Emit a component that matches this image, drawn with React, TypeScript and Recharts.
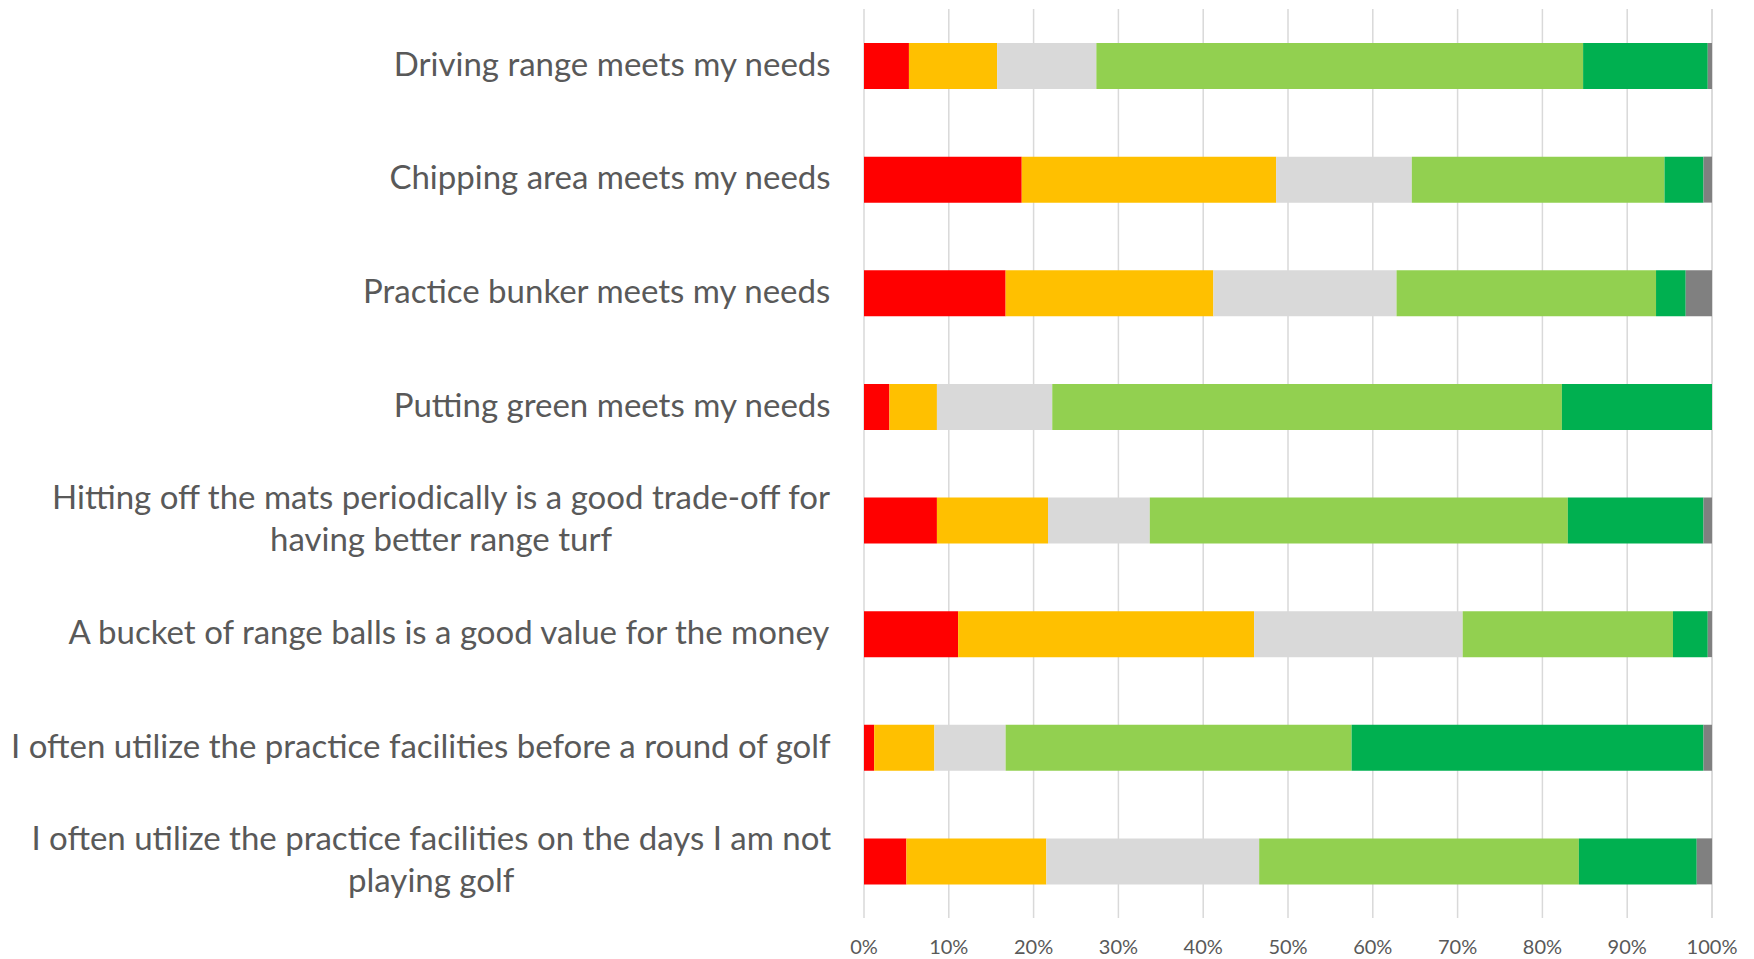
import { Bar, BarChart, CartesianGrid, XAxis, YAxis } from "recharts"

const statements = [
  ["Driving range meets my needs"],
  ["Chipping area meets my needs"],
  ["Practice bunker meets my needs"],
  ["Putting green meets my needs"],
  ["Hitting off the mats periodically is a good trade-off for", "having better range turf"],
  ["A bucket of range balls is a good value for the money"],
  ["I often utilize the practice facilities before a round of golf"],
  ["I often utilize the practice facilities on the days I am not", "playing golf"],
]

// percent of responses, one value per statement
const stronglyDisagree = [5.3, 18.6, 16.7, 3.0, 8.6, 11.1, 1.2, 5.0]
const disagree = [10.4, 30.0, 24.5, 5.6, 13.1, 34.9, 7.1, 16.5]
const neutral = [11.7, 16.0, 21.6, 13.6, 12.0, 24.6, 8.4, 25.1]
const agree = [57.4, 29.8, 30.6, 60.1, 49.3, 24.8, 40.8, 37.7]
const stronglyAgree = [14.7, 4.6, 3.5, 17.7, 16.0, 4.1, 41.5, 13.9]
const noAnswer = [0.5, 1.0, 3.1, 0, 1.0, 0.5, 1.0, 1.8]

const ticks = [0, 10, 20, 30, 40, 50, 60, 70, 80, 90, 100]

const series = [
  { key: "stronglyDisagree", color: "#FF0000" },
  { key: "disagree", color: "#FFC000" },
  { key: "neutral", color: "#D9D9D9" },
  { key: "agree", color: "#92D050" },
  { key: "stronglyAgree", color: "#00B050" },
  { key: "noAnswer", color: "#808080" },
]

const data = statements.map((lines, i) => ({
  name: lines.join(" "),
  lines,
  stronglyDisagree: stronglyDisagree[i],
  disagree: disagree[i],
  neutral: neutral[i],
  agree: agree[i],
  stronglyAgree: stronglyAgree[i],
  noAnswer: noAnswer[i],
}))

const FONT = "Lato, 'Open Sans', sans-serif"
const LABEL_SIZE = 33

let ctx: CanvasRenderingContext2D | null = null
function textWidth(s: string) {
  if (!ctx) ctx = document.createElement("canvas").getContext("2d")
  if (!ctx) return s.length * LABEL_SIZE * 0.48
  ctx.font = `${LABEL_SIZE}px ${FONT}`
  return ctx.measureText(s).width
}

function StatementTick(props: any) {
  const { x, y, index } = props
  const lines: string[] = data[index]?.lines ?? [props.payload.value]
  const right = x - 25
  const widest = Math.max(...lines.map(textWidth))
  const cx = right - widest / 2
  const lh = 42
  const y0 = y - 3 - ((lines.length - 1) * lh) / 2
  return (
    <g>
      {lines.map((l, i) => (
        <text
          key={i}
          x={cx}
          y={y0 + i * lh}
          textAnchor="middle"
          dominantBaseline="central"
          fill="#595959"
          fontFamily={FONT}
          fontSize={LABEL_SIZE}
        >
          {l}
        </text>
      ))}
    </g>
  )
}

export default function App() {
  return (
    <div style={{ position: "absolute", left: 0, top: 0, background: "#fff" }}>
      <BarChart
        width={1754}
        height={959}
        data={data}
        layout="vertical"
        margin={{ top: 9, right: 42, bottom: 0, left: 0 }}
      >
        <CartesianGrid horizontal={false} stroke="#D9D9D9" strokeWidth={1.5} />
        <XAxis
          type="number"
          domain={[0, 100]}
          ticks={ticks}
          tickFormatter={(v) => `${v}%`}
          axisLine={false}
          tickLine={false}
          height={41}
          tick={{ fill: "#595959", fontSize: 20, fontFamily: FONT }}
          tickMargin={16}
        />
        <YAxis
          type="category"
          dataKey="name"
          width={864}
          axisLine={false}
          tickLine={false}
          interval={0}
          tick={<StatementTick />}
        />
        {series.map((s) => (
          <Bar
            key={s.key}
            dataKey={s.key}
            stackId="a"
            fill={s.color}
            barSize={46}
            isAnimationActive={false}
          />
        ))}
      </BarChart>
    </div>
  )
}
